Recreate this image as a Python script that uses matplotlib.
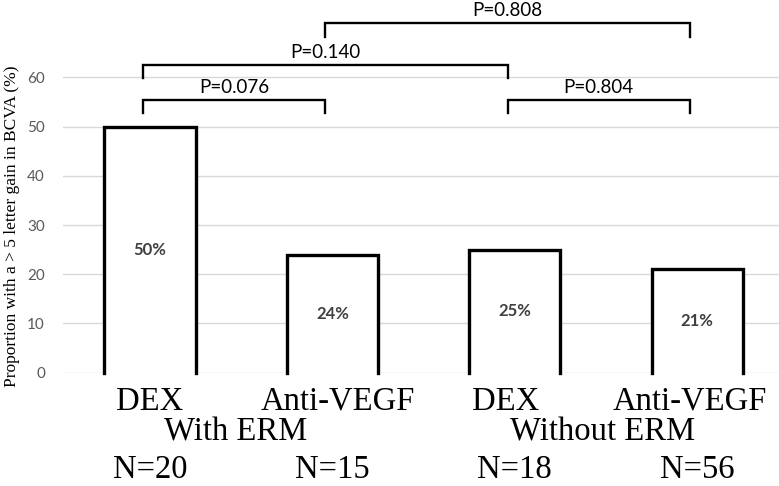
import matplotlib.pyplot as plt

treatments = ["DEX", "Anti-VEGF", "DEX", "Anti-VEGF"]
groups = ["With ERM", "Without ERM"]
gain_pct = [50, 24, 25, 21]
n_patients = [20, 15, 18, 56]
yticks = [0, 10, 20, 30, 40, 50, 60]

# pairwise comparisons: (bar a, bar b, label)
pairs = [(0, 1), (0, 2), (2, 3), (1, 3)]
p_labels = ["P=0.076", "P=0.140", "P=0.804", "P=0.808"]
bracket_tops = [55.4, 62.5, 55.4, 71.0]

serif = "Liberation Serif"
sans = "Lato"

fig = plt.figure(figsize=(7.79, 4.86), dpi=100)
ax = fig.add_axes([63 / 779, (486 - 372.7) / 486, 1 - 63 / 779, 372.7 / 486])

x = list(range(len(gain_pct)))
width = 0.5
bars = ax.bar(x, gain_pct, width, color="white", zorder=2)
for b in bars:
    x0, x1, h = b.get_x(), b.get_x() + b.get_width(), b.get_height()
    ax.plot([x0, x0, x1, x1], [0, h, h, 0], color="black", lw=2.4,
            solid_joinstyle="miter", solid_capstyle="projecting",
            clip_on=False, zorder=3)

for xi, v in zip(x, gain_pct):
    ax.text(xi, v / 2, f"{v}%", ha="center", va="center", fontsize=12,
            fontweight="bold", family=sans, color="#404040", zorder=4)

# significance brackets
leg = 2.7
for (a, b), lab, top in zip(pairs, p_labels, bracket_tops):
    xa, xb = a - 0.04, b - 0.04
    ax.plot([xa, xa, xb, xb], [top - leg, top, top, top - leg], color="black",
            lw=1.7, solid_joinstyle="miter", clip_on=False, zorder=3)
    ax.text((xa + xb) / 2, top + 1.4, lab, ha="center", va="baseline",
            fontsize=13.5, family=sans, color="black")

ax.set_xlim(-0.477, 3.448)
ax.set_ylim(0, 75.75)
ax.set_yticks(yticks)
ax.set_yticklabels([str(t) for t in yticks], family=sans, fontsize=11,
                   color="#595959")
ax.tick_params(axis="y", length=0, pad=13)
ax.set_xticks([])
ax.yaxis.grid(True, color="#d9d9d9", lw=1.0, zorder=0)
ax.set_axisbelow(True)
for s in ax.spines.values():
    s.set_visible(False)

# category rows under the axis
trans = ax.get_xaxis_transform()
cat_shift = [0.0, 0.03, -0.05, -0.04]
for xi, name, dx in zip(x, treatments, cat_shift):
    ax.text(xi + dx, -0.100, name, transform=trans, ha="center", va="baseline",
            fontsize=23.5, family=serif)
for gx, g in zip([0.47, 2.48], groups):
    ax.text(gx, -0.181, g, transform=trans, ha="center", va="baseline",
            fontsize=23.5, family=serif)
for xi, n in zip(x, n_patients):
    ax.text(xi, -0.283, f"N={n}", transform=trans, ha="center", va="baseline",
            fontsize=23.5, family=serif)

fig.text(12 / 779, 1 - 226 / 486, "Proportion with a > 5 letter gain in BCVA (%)",
         rotation=90, ha="center", va="center", fontsize=12.5, family=serif)

fig.savefig("out.png", dpi=100)
